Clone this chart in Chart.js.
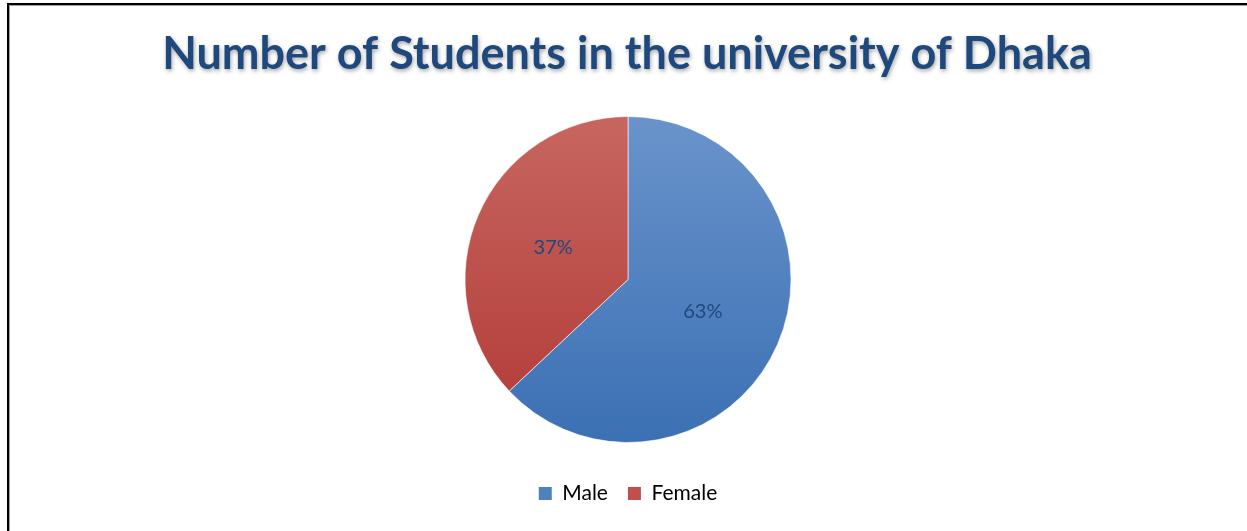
<!DOCTYPE html>
<html>
<head>
<meta charset="utf-8">
<script src="https://cdn.jsdelivr.net/npm/chart.js@4/dist/chart.umd.min.js"></script>
<style>
  html, body { margin: 0; padding: 0; background: #fff; overflow: hidden; }
  .wrap { position: relative; width: 1247px; height: 531px; }
  .frame {
    position: absolute; left: 7px; top: 3px; width: 1400px; height: 700px;
    border: 2px solid #000; box-shadow: inset 1px 1px 0 #a0a0a0;
  }
  canvas { position: absolute; left: 0; top: 0; }
</style>
</head>
<body>
<div class="wrap">
  <div class="frame"></div>
  <canvas id="myChart" width="1247" height="531"></canvas>
</div>
<script>
const chartTitle = 'Number of Students in the university of Dhaka'
const labels = ['Male', 'Female']
const shares = [63, 37]

const gradientStops = [
  ['#6A93CB', '#3B70B4'],
  ['#C7665F', '#B23937']
]
const legendColors = ['#4F81BD', '#C0504D']
const textColor = '#1F497D'
const fontFamily = 'Lato, "Open Sans", sans-serif'
const pieRadius = 163

const sliceFill = context => {
  const chart = context.chart
  const area = chart.chartArea
  const stops = gradientStops[context.dataIndex] || gradientStops[0]
  if (!area) return stops[1]
  const cy = (area.top + area.bottom) / 2
  const g = chart.ctx.createLinearGradient(0, cy - pieRadius, 0, cy + pieRadius)
  g.addColorStop(0, stops[0])
  g.addColorStop(1, stops[1])
  return g
}

// title with soft shadow, drawn on the canvas
const titlePlugin = {
  id: 'shadowTitle',
  afterDraw: chart => {
    const ctx = chart.ctx
    ctx.save()
    ctx.font = 'bold 45px ' + fontFamily
    ctx.textAlign = 'center'
    ctx.textBaseline = 'alphabetic'
    ctx.shadowColor = 'rgba(0,0,0,0.35)'
    ctx.shadowBlur = 4
    ctx.shadowOffsetX = 1
    ctx.shadowOffsetY = 2
    ctx.fillStyle = textColor
    ctx.fillText(chartTitle, 627, 69)
    ctx.restore()
  }
}

// percentage labels inside each slice
const sliceLabels = {
  id: 'sliceLabels',
  afterDatasetsDraw: chart => {
    const ctx = chart.ctx
    const meta = chart.getDatasetMeta(0)
    const total = shares.reduce((a, b) => a + b, 0)
    ctx.save()
    ctx.font = '20px ' + fontFamily
    ctx.fillStyle = textColor
    ctx.textAlign = 'center'
    ctx.textBaseline = 'middle'
    meta.data.forEach((arc, i) => {
      const p = arc.tooltipPosition()
      ctx.fillText(Math.round(shares[i] / total * 100) + '%', p.x, p.y)
    })
    ctx.restore()
  }
}

const ctx = document.getElementById('myChart').getContext('2d')
const myChart = new Chart(ctx, {
  type: 'pie',
  data: {
    labels,
    datasets: [
      {
        data: shares,
        backgroundColor: sliceFill,
        borderColor: 'rgba(255,255,255,0.6)',
        borderWidth: 1
      }
    ]
  },
  options: {
    responsive: false,
    animation: false,
    radius: pieRadius,
    layout: {
      padding: { top: 96, bottom: 17, left: 9, right: 0 }
    },
    plugins: {
      title: { display: false },
      tooltip: { enabled: false },
      legend: {
        position: 'bottom',
        labels: {
          boxWidth: 13,
          boxHeight: 13,
          padding: 20,
          color: textColor,
          font: { family: fontFamily, size: 21 },
          generateLabels: chart =>
            labels.map((l, i) => ({
              text: l,
              fillStyle: legendColors[i],
              strokeStyle: legendColors[i],
              lineWidth: 0,
              hidden: false,
              index: i
            }))
        }
      }
    }
  },
  plugins: [titlePlugin, sliceLabels]
})
</script>
</body>
</html>
